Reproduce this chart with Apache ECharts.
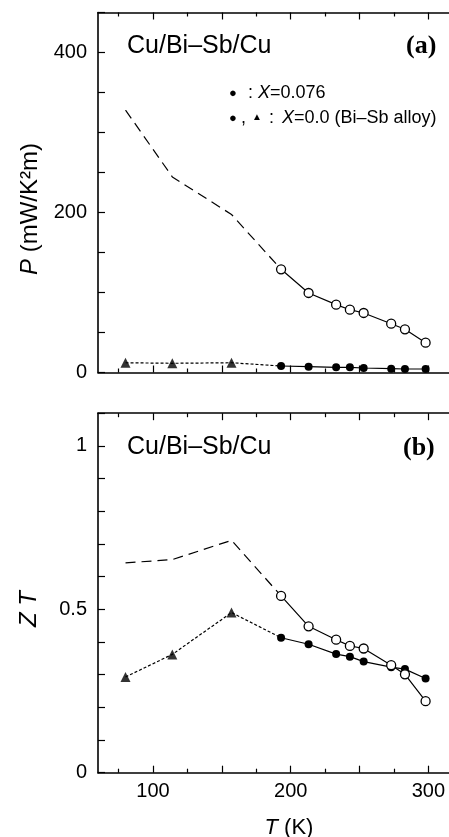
<!DOCTYPE html>
<html>
<head>
<meta charset="utf-8">
<script src="https://cdn.jsdelivr.net/npm/echarts@6/dist/echarts.min.js"></script>
<style>html,body{margin:0;padding:0;background:#fff;}#c{width:449px;height:837px;}</style>
</head>
<body>
<div id="c"></div>
<script>
// ---- data ----
const T = [193, 213, 233, 243, 253, 273, 283, 298];
const P_open = [129.0, 99.4, 84.8, 78.5, 74.4, 61.0, 54.0, 37.3];
const P_filled = [8.1, 7.3, 6.5, 6.5, 5.6, 4.8, 4.4, 4.4];
const triT = [80, 114, 157];
const P_tri = [12.2, 11.5, 12.2];
const P_dash = [328, 244.5, 197.5];
const ZT_open = [0.541, 0.448, 0.407, 0.388, 0.380, 0.329, 0.301, 0.219];
const ZT_filled = [0.413, 0.393, 0.363, 0.355, 0.340, 0.323, 0.317, 0.288];
const ZT_tri = [0.293, 0.362, 0.490];
const ZT_dash = [0.642, 0.652, 0.711];
const xMajorTicks = [100, 150, 200, 250, 300];
const xMinorTicks = [75, 125, 175, 225, 275];
const xTickLabels = [100, 200, 300];
const pTickLabels = [0, 200, 400];
const ztTickLabels = [0, 0.5, 1];

const FONT = 'Liberation Sans, Arial, Helvetica, sans-serif';
const SERIF = 'Liberation Serif, Times New Roman, serif';
const chart = echarts.init(document.getElementById('c'));

const pairs = (xs, ys) => xs.map((x, i) => [x, ys[i]]);

function xAx(grid, pos, ticks, len, labels, showLine) {
  return {
    type: 'value', gridIndex: grid, position: pos, min: 60, max: 315,
    axisLine: { show: showLine, onZero: false, lineStyle: { color: '#000', width: 1.6 } },
    axisTick: { show: true, inside: true, length: len, customValues: ticks, lineStyle: { color: '#000', width: 1.2 } },
    axisLabel: labels ? { show: true, customValues: labels, color: '#000', fontSize: 20, fontFamily: FONT, margin: 9 } : { show: false },
    splitLine: { show: false }
  };
}
function yAx(grid, max, interval, labels) {
  return {
    type: 'value', gridIndex: grid, position: 'left', min: 0, max: max, interval: interval,
    axisLine: { show: true, onZero: false, lineStyle: { color: '#000', width: 1.6 } },
    axisTick: { show: true, inside: true, length: 7, lineStyle: { color: '#000', width: 1.2 } },
    axisLabel: {
      show: true, color: '#000', fontSize: 20, fontFamily: FONT, margin: 11,
      formatter: v => labels.some(l => Math.abs(l - v) < 1e-6) ? String(labels.find(l => Math.abs(l - v) < 1e-6)) : ''
    },
    splitLine: { show: false }
  };
}

const xAxes = [];
[0, 1].forEach(g => {
  xAxes.push(xAx(g, 'bottom', xMajorTicks, 7, g === 1 ? xTickLabels : null, true));
  xAxes.push(xAx(g, 'bottom', xMinorTicks, 4, null, false));
  xAxes.push(xAx(g, 'top', xMajorTicks, 7, null, true));
  xAxes.push(xAx(g, 'top', xMinorTicks, 4, null, false));
});

function panelSeries(g, openY, filledY, triY, dashY) {
  const xi = g * 4;
  return [
    { type: 'line', xAxisIndex: xi, yAxisIndex: g, data: pairs(triT, dashY).concat([[T[0], openY[0]]]),
      symbol: 'none', lineStyle: { color: '#000', width: 1.2, type: [10, 6] }, z: 2 },
    { type: 'line', xAxisIndex: xi, yAxisIndex: g, data: pairs(triT, triY).concat([[T[0], filledY[0]]]),
      symbol: 'none', lineStyle: { color: '#000', width: 1.2, type: [3, 2] }, z: 2 },
    { type: 'line', xAxisIndex: xi, yAxisIndex: g, data: pairs(T, filledY),
      symbol: 'circle', symbolSize: 8, itemStyle: { color: '#000' },
      lineStyle: { color: '#000', width: 1.2 }, z: 3 },
    { type: 'scatter', xAxisIndex: xi, yAxisIndex: g, data: pairs(triT, triY),
      symbol: 'triangle', symbolSize: 10, itemStyle: { color: '#000' }, z: 4 },
    { type: 'line', xAxisIndex: xi, yAxisIndex: g, data: pairs(T, openY),
      symbol: 'circle', symbolSize: 9, itemStyle: { color: '#fff', borderColor: '#000', borderWidth: 1.3 },
      lineStyle: { color: '#000', width: 1.2 }, z: 5 }
  ];
}

function txt(x, y, text, size, opts) {
  return {
    type: 'text', x: x, y: y, z: 50,
    style: Object.assign({ text: text, fill: '#000', fontSize: size, fontFamily: FONT, verticalAlign: 'middle', align: 'left' }, opts || {})
  };
}
const italicRich = s => ({ i: { fontStyle: 'italic', fontSize: s, fontFamily: FONT } });

const option = {
  animation: false,
  backgroundColor: '#fff',
  grid: [
    { left: 98, top: 12.5, width: 352.7, height: 360 },
    { left: 98, top: 413.2, width: 352.7, height: 359.5 }
  ],
  xAxis: xAxes,
  yAxis: [ yAx(0, 450, 50, pTickLabels), yAx(1, 1.1, 0.1, ztTickLabels) ],
  series: panelSeries(0, P_open, P_filled, P_tri, P_dash).concat(panelSeries(1, ZT_open, ZT_filled, ZT_tri, ZT_dash)),
  graphic: [
    txt(127, 46, 'Cu/Bi\u2013Sb/Cu', 25),
    txt(406, 46, '(a)', 26, { fontFamily: SERIF, fontWeight: 'bold' }),
    txt(127, 447, 'Cu/Bi\u2013Sb/Cu', 25),
    txt(403, 448, '(b)', 26, { fontFamily: SERIF, fontWeight: 'bold' }),
    // legend rows
    txt(233, 93, '\u25CF', 13, { align: 'center' }),
    txt(248, 93, ':', 18),
    txt(258, 93, '{i|X}=0.076', 18, { rich: italicRich(18) }),
    txt(233, 118, '\u25CF', 13, { align: 'center' }),
    txt(241, 118, ',', 18),
    txt(257, 117, '\u25B2', 10, { align: 'center' }),
    txt(269, 118, ':', 18),
    txt(282, 118, '{i|X}=0.0 (Bi\u2013Sb alloy)', 18, { rich: italicRich(18) }),
    // axis titles
    { type: 'text', x: 30, y: 209, rotation: Math.PI / 2, z: 50,
      style: { text: '{i|P} (mW/K\u00B2m)', fill: '#000', fontSize: 24, fontFamily: FONT, align: 'center', verticalAlign: 'middle',
        rich: italicRich(24) } },
    { type: 'text', x: 29, y: 609, rotation: Math.PI / 2, z: 50,
      style: { text: '{i|Z T}', fill: '#000', fontSize: 24, fontFamily: FONT, align: 'center', verticalAlign: 'middle',
        rich: italicRich(24) } },
    { type: 'text', x: 289, y: 828, z: 50,
      style: { text: '{i|T} (K)', fill: '#000', fontSize: 22, fontFamily: FONT, align: 'center', verticalAlign: 'middle',
        rich: italicRich(22) } }
  ]
};
chart.setOption(option);
</script>
</body>
</html>
